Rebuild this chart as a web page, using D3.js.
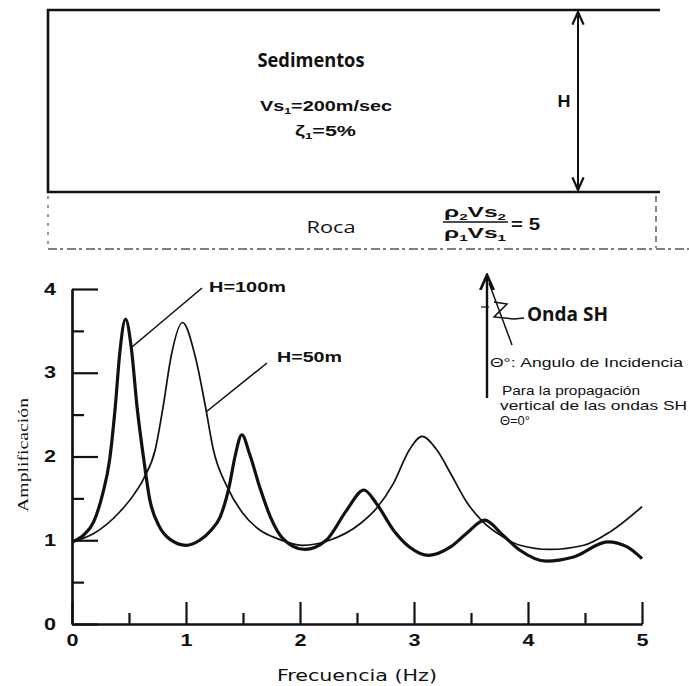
<!DOCTYPE html>
<html>
<head>
<meta charset="utf-8">
<script src="https://cdn.jsdelivr.net/npm/d3@7/dist/d3.min.js"></script>
<style>
  html, body { margin: 0; padding: 0; background: #fff; }
  svg { display: block; }
</style>
</head>
<body>
<svg id="chart" width="689" height="686"></svg>
<script>
// Amplification spectra of a soil layer over rock (SH waves, vertical incidence)
const freqH100 = [0, 0.1, 0.19, 0.27, 0.33, 0.38, 0.42, 0.47, 0.52, 0.57, 0.63, 0.68, 0.76, 0.86, 1.0, 1.12, 1.22, 1.3, 1.38, 1.43, 1.49, 1.56, 1.65, 1.74, 1.85, 2.04, 2.23, 2.41, 2.56, 2.67, 2.82, 2.96, 3.13, 3.32, 3.46, 3.62, 3.78, 3.93, 4.16, 4.4, 4.7, 4.87, 5.0];
const ampH100  = [0.98, 1.06, 1.22, 1.56, 1.96, 2.6, 3.25, 3.64, 3.3, 2.6, 1.96, 1.5, 1.18, 1.01, 0.94, 1.0, 1.12, 1.28, 1.65, 2.0, 2.26, 2.02, 1.62, 1.28, 1.02, 0.89, 1.0, 1.36, 1.6, 1.44, 1.12, 0.92, 0.82, 0.92, 1.08, 1.24, 1.06, 0.88, 0.75, 0.8, 0.98, 0.92, 0.78];

const freqH50 = [0, 0.19, 0.42, 0.55, 0.63, 0.73, 0.8, 0.87, 0.97, 1.08, 1.17, 1.24, 1.36, 1.5, 1.65, 1.8, 2.02, 2.26, 2.53, 2.67, 2.82, 2.96, 3.07, 3.2, 3.32, 3.46, 3.59, 3.78, 3.93, 4.19, 4.49, 4.72, 5.0];
const ampH50  = [0.98, 1.08, 1.34, 1.56, 1.74, 2.08, 2.6, 3.2, 3.6, 3.2, 2.6, 2.08, 1.64, 1.32, 1.12, 1.02, 0.94, 1.0, 1.2, 1.38, 1.68, 2.08, 2.24, 2.08, 1.8, 1.46, 1.24, 1.04, 0.94, 0.89, 0.94, 1.1, 1.4];

const xMajorTicks = [0, 1, 2, 3, 4, 5];
const xMinorTicks = [0.5, 1.5, 2.5, 3.5, 4.5];
const yMajorTicks = [0, 1, 2, 3, 4];
const yMinorTicks = [0.5, 1.5, 2.5, 3.5];

const svg = d3.select("#chart");
svg.append("rect").attr("width", 689).attr("height", 686).attr("fill", "#fff");

const ink = "#111";

// text helper: fixed rendered width keeps the wide lettering of the figure
function label(g, x, y, str, opts = {}) {
  const t = g.append("text")
    .attr("x", x).attr("y", y)
    .attr("font-family", opts.family || "'Liberation Sans', Arial, sans-serif")
    .attr("font-size", opts.size || 14)
    .attr("font-weight", opts.weight || "normal")
    .attr("text-anchor", opts.anchor || "start")
    .attr("fill", ink);
  if (opts.parts) {
    opts.parts.forEach(p => {
      const s = t.append("tspan").text(p.t);
      if (p.sub) s.attr("font-size", (opts.size || 14) * 0.62).attr("dy", 3);
      if (p.up) s.attr("dy", -3);
    });
  } else {
    t.text(str);
  }
  if (opts.len) t.attr("textLength", opts.len).attr("lengthAdjust", "spacingAndGlyphs");
  return t;
}

// ---------- soil column sketch ----------
const sketch = svg.append("g");
const defs = svg.append("defs");
defs.append("marker").attr("id", "ah").attr("viewBox", "0 0 10 10")
  .attr("refX", 9).attr("refY", 5).attr("markerWidth", 7).attr("markerHeight", 7)
  .attr("orient", "auto-start-reverse")
  .append("path").attr("d", "M0,1 L9,5 L0,9").attr("fill", "none")
  .attr("stroke", ink).attr("stroke-width", 1.6);

sketch.append("path")
  .attr("d", "M660,10 L48,10 L48,192 L660,192")
  .attr("fill", "none").attr("stroke", ink).attr("stroke-width", 2.6);

sketch.append("line").attr("x1", 578).attr("x2", 578).attr("y1", 12).attr("y2", 190)
  .attr("stroke", ink).attr("stroke-width", 2)
  .attr("marker-start", "url(#ah)").attr("marker-end", "url(#ah)");

label(sketch, 564, 107, "H", { size: 17, weight: "bold", anchor: "middle", len: 13 });
label(sketch, 311, 67, "Sedimentos", { size: 19, weight: "bold", anchor: "middle", len: 107,
  family: "'Open Sans', 'Liberation Sans', sans-serif" });
label(sketch, 260, 111, null, { size: 15, weight: "bold", len: 132,
  parts: [{ t: "Vs" }, { t: "1", sub: true }, { t: "=200m/sec", up: true }] });
label(sketch, 295, 136, null, { size: 15, weight: "bold", len: 61,
  parts: [{ t: "ζ" }, { t: "1", sub: true }, { t: "=5%", up: true }] });

// rock half-space band
const rockStroke = "#555";
sketch.append("line").attr("x1", 48).attr("x2", 689).attr("y1", 249).attr("y2", 249)
  .attr("stroke", rockStroke).attr("stroke-width", 1.5).attr("stroke-dasharray", "9,3,3,4");
sketch.append("line").attr("x1", 48).attr("x2", 48).attr("y1", 196).attr("y2", 248)
  .attr("stroke", rockStroke).attr("stroke-width", 1.2).attr("stroke-dasharray", "3,6");
sketch.append("line").attr("x1", 656).attr("x2", 656).attr("y1", 196).attr("y2", 248)
  .attr("stroke", rockStroke).attr("stroke-width", 1.4).attr("stroke-dasharray", "6,4");

label(sketch, 331, 233, "Roca", { size: 17, anchor: "middle", len: 49,
  family: "'Open Sans', 'Liberation Sans', sans-serif" });
label(sketch, 444, 217, null, { size: 14, weight: "bold", len: 62,
  parts: [{ t: "ρ" }, { t: "2", sub: true }, { t: "Vs", up: true }, { t: "2", sub: true }] });
sketch.append("line").attr("x1", 443).attr("x2", 508).attr("y1", 222).attr("y2", 222)
  .attr("stroke", ink).attr("stroke-width", 1.4);
label(sketch, 444, 238, null, { size: 14, weight: "bold", len: 62,
  parts: [{ t: "ρ" }, { t: "1", sub: true }, { t: "Vs", up: true }, { t: "1", sub: true }] });
label(sketch, 511, 230, "= 5", { size: 16, weight: "bold", len: 29 });

// ---------- amplification chart ----------
const x = d3.scaleLinear().domain([0, 5]).range([72, 642]);
const y = d3.scaleLinear().domain([0, 4]).range([624, 289]);

const axes = svg.append("g");

function styleAxis(g) {
  g.selectAll("path.domain").attr("stroke", ink).attr("stroke-width", 2.2);
  g.selectAll(".tick line").attr("stroke", ink).attr("stroke-width", 2.2);
  g.selectAll(".tick text")
    .attr("font-family", "'Liberation Sans', Arial, sans-serif")
    .attr("font-size", 16).attr("font-weight", "bold").attr("fill", ink)
    .attr("textLength", 12).attr("lengthAdjust", "spacingAndGlyphs");
}

const gx = axes.append("g").attr("transform", `translate(0,${y(0)})`)
  .call(d3.axisBottom(x).tickValues(xMajorTicks).tickSizeInner(-22).tickSizeOuter(0)
    .tickPadding(11).tickFormat(d3.format("d")));
styleAxis(gx);
const gxm = axes.append("g").attr("transform", `translate(0,${y(0)})`)
  .call(d3.axisBottom(x).tickValues(xMinorTicks).tickSizeInner(-11).tickSizeOuter(0).tickFormat(""));
styleAxis(gxm);

const gy = axes.append("g").attr("transform", `translate(${x(0)},0)`)
  .call(d3.axisLeft(y).tickValues(yMajorTicks).tickSizeInner(-26).tickSizeOuter(0)
    .tickPadding(16).tickFormat(d3.format("d")));
styleAxis(gy);
gy.selectAll(".tick text").attr("text-anchor", "middle").attr("x", -22);
const gym = axes.append("g").attr("transform", `translate(${x(0)},0)`)
  .call(d3.axisLeft(y).tickValues(yMinorTicks).tickSizeInner(-12).tickSizeOuter(0).tickFormat(""));
styleAxis(gym);

// axis titles
label(svg, 357, 681, "Frecuencia (Hz)", { size: 15, anchor: "middle", len: 160,
  family: "'DejaVu Sans Condensed', 'Liberation Sans', sans-serif" });
label(svg.append("g").attr("transform", "translate(28,455) rotate(-90)"), 0, 0, "Amplificación",
  { size: 15, anchor: "middle", len: 114, family: "'Liberation Serif', 'Times New Roman', serif" });

// spectra
const line = d3.line().x(d => x(d[0])).y(d => y(d[1])).curve(d3.curveMonotoneX);
const plot = svg.append("g");
plot.append("path").datum(d3.zip(freqH50, ampH50)).attr("d", line)
  .attr("fill", "none").attr("stroke", ink).attr("stroke-width", 1.7).attr("stroke-linejoin", "round");
plot.append("path").datum(d3.zip(freqH100, ampH100)).attr("d", line)
  .attr("fill", "none").attr("stroke", ink).attr("stroke-width", 3.2).attr("stroke-linejoin", "round");

// curve callouts
plot.append("line").attr("x1", 202).attr("y1", 288).attr("x2", 132).attr("y2", 347)
  .attr("stroke", ink).attr("stroke-width", 1.6);
label(plot, 209, 292, "H=100m", { size: 15, weight: "bold", len: 77 });
plot.append("line").attr("x1", 267).attr("y1", 363).attr("x2", 206).attr("y2", 412)
  .attr("stroke", ink).attr("stroke-width", 1.6);
label(plot, 277, 362, "H=50m", { size: 15, weight: "bold", len: 65 });

// incident SH wave sketch
const wave = svg.append("g");
wave.append("line").attr("x1", 487).attr("x2", 487).attr("y1", 398).attr("y2", 275)
  .attr("stroke", ink).attr("stroke-width", 2.4).attr("marker-end", "url(#ah)");
wave.append("line").attr("x1", 489).attr("y1", 283).attr("x2", 512).attr("y2", 345)
  .attr("stroke", ink).attr("stroke-width", 1.5);
wave.append("line").attr("x1", 481).attr("y1", 307).attr("x2", 489).attr("y2", 307)
  .attr("stroke", ink).attr("stroke-width", 1.2);
wave.append("polyline").attr("points", "494,302 507,304 494,317 514,319 524,318")
  .attr("fill", "none").attr("stroke", ink).attr("stroke-width", 1.5);

label(wave, 527, 321, "Onda SH", { size: 19, weight: "bold", len: 81,
  family: "'Open Sans', 'Liberation Sans', sans-serif" });
label(wave, 490, 367, "Θ°: Angulo de Incidencia", { size: 13, len: 193 });
label(wave, 502, 395, "Para la propagación", { size: 13, len: 138 });
label(wave, 500, 410, "vertical de las ondas SH", { size: 13, len: 187 });
label(wave, 500, 425, "Θ=0°", { size: 13, len: 30 });
</script>
</body>
</html>
